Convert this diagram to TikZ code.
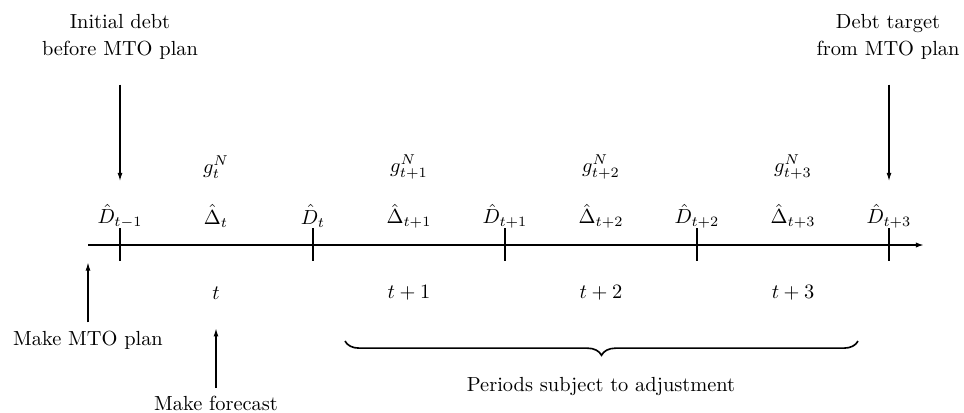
\documentclass[tikz,border=0pt]{standalone}
\usetikzlibrary{arrows.meta,decorations.pathreplacing}
\begin{document}
\begin{tikzpicture}[x=0.49pt,y=-0.49pt,
  lbl/.style={inner sep=0pt},
  txt/.style={inner sep=0pt,align=center},
  axisline/.style={line width=0.85pt,-{Latex[length=4pt,width=2.6pt]}},
  tickline/.style={line width=0.9pt},
  arr/.style={line width=0.6pt,-{Latex[length=4pt,width=2.4pt]}},
  bracestyle/.style={line width=0.8pt,decorate,decoration={brace,mirror,amplitude=7pt}}]
\useasboundingbox (0,0) rectangle (964,412);
% axis
\coordinate (ax0) at (88,245);
\coordinate (ax1) at (924,245);
\draw[axisline] (ax0) -- (ax1);
% ticks
\foreach \x/\n in {120/T0,313/T1,505/T2,697/T3,889/T4}{
  \coordinate (\n a) at (\x,228);
  \coordinate (\n b) at (\x,261);
  \draw[tickline] (\n a) -- (\n b);
}
% debt labels
\node[lbl] (D0) at (120,216) {$\hat{D}_{t-1}$};
\node[lbl] (D1) at (313,216) {$\hat{D}_{t}$};
\node[lbl] (D2) at (505,216) {$\hat{D}_{t+1}$};
\node[lbl] (D3) at (697,216) {$\hat{D}_{t+2}$};
\node[lbl] (D4) at (889,216) {$\hat{D}_{t+3}$};
% delta labels
\node[lbl] (E1) at (216,216) {$\hat{\Delta}_{t}$};
\node[lbl] (E2) at (409,216) {$\hat{\Delta}_{t+1}$};
\node[lbl] (E3) at (601,216) {$\hat{\Delta}_{t+2}$};
\node[lbl] (E4) at (793,216) {$\hat{\Delta}_{t+3}$};
% growth labels
\node[lbl] (G1) at (216,167) {$g_{t}^{N}$};
\node[lbl] (G2) at (409,167) {$g_{t+1}^{N}$};
\node[lbl] (G3) at (601,167) {$g_{t+2}^{N}$};
\node[lbl] (G4) at (793,167) {$g_{t+3}^{N}$};
% period labels
\node[lbl] (P1) at (216,293) {$t$};
\node[lbl] (P2) at (409,293) {$t+1$};
\node[lbl] (P3) at (601,293) {$t+2$};
\node[lbl] (P4) at (793,293) {$t+3$};
% annotations
\node[txt] (initial) at (120,37) {Initial debt\\[1.5pt]before MTO plan};
\node[txt] (target) at (888,37) {Debt target\\[1.5pt]from MTO plan};
\node[txt] (mto) at (88,340) {Make MTO plan};
\node[txt] (fc) at (216,403) {Make forecast};
\node[txt] (periods) at (601,387) {Periods subject to adjustment};
% arrows
\draw[arr,shorten <=12pt,shorten >=11pt] (initial.south) -- (D0.north);
\draw[arr,shorten <=12pt,shorten >=11pt] (target.south -| D4.north) -- (D4.north);
\draw[arr,shorten <=4pt,shorten >=8.5pt] (mto.north) -- (ax0);
\draw[arr,shorten <=3.5pt,shorten >=14pt] (fc.north) -- (P1.south);
% brace
\coordinate (b0) at (345,341);
\coordinate (b1) at (858,341);
\draw[bracestyle] (b0) -- (b1);
\end{tikzpicture}
\end{document}
